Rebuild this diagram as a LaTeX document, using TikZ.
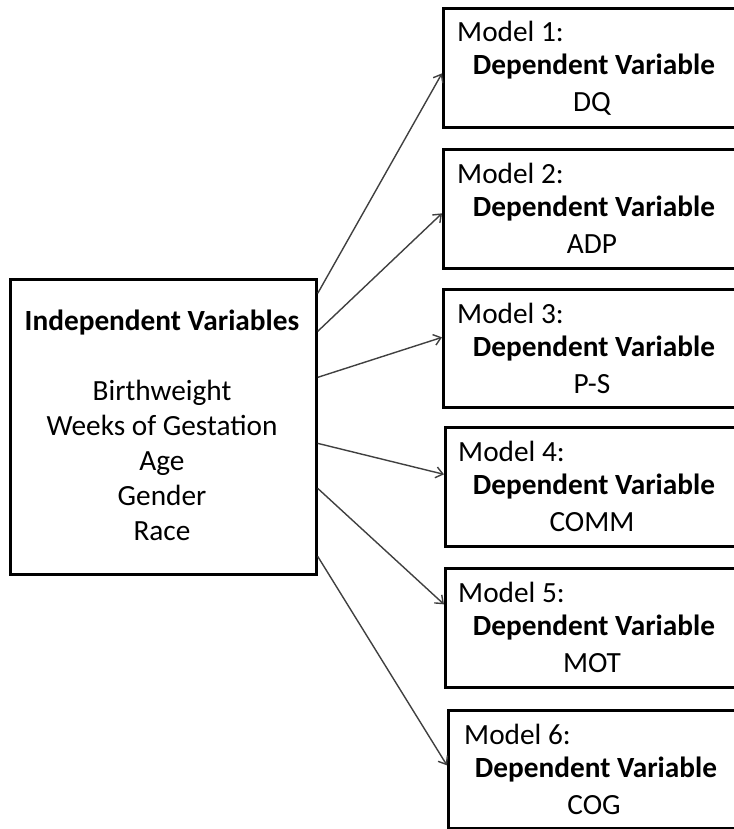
\documentclass[tikz,border=0pt]{standalone}
\usepackage{fontspec}
\setmainfont{Carlito}
\usetikzlibrary{arrows.meta}
\begin{document}
\begin{tikzpicture}[x=1pt,y=-1pt,
  box/.style={draw=black, line width=2.7pt, fill=white, inner sep=0pt, rectangle, anchor=north west},
  mbox/.style={box, minimum width=360pt},
  txt/.style={anchor=base, inner sep=0pt, font=\fontsize{29.3}{35}\selectfont},
  mtxt/.style={txt, anchor=base west},
  btxt/.style={txt, font=\fontsize{29.3}{35}\selectfont\bfseries},
  arr/.style={draw=black!75, line width=1.4pt, -{Straight Barb[length=7pt,width=11pt]}}
]
\useasboundingbox (0,0) rectangle (733,829);

% left box
\node[box, minimum width=306pt, minimum height=295pt] (L) at (9,278) {};
\node[btxt] (lt) at (162,330) {Independent Variables};
\node[txt] (l1) at (162,400) {Birthweight};
\node[txt] (l2) at (162,435) {Weeks of Gestation};
\node[txt] (l3) at (162,470) {Age};
\node[txt] (l4) at (162,505) {Gender};
\node[txt] (l5) at (162,540) {Race};

% right boxes
\node[mbox, minimum height=119pt] (m1) at (442,7) {};
\node[mbox, minimum height=119pt] (m2) at (442,148) {};
\node[mbox, minimum height=118pt] (m3) at (442,288) {};
\node[mbox, minimum height=119pt] (m4) at (444,426) {};
\node[mbox, minimum height=119pt] (m5) at (444,567) {};
\node[mbox, minimum height=118pt] (m6) at (447,709) {};

\foreach \i/\t/\x/\c/\v in {1/7/457/594/DQ, 2/148/457/594/ADP, 3/288/457/594/P-S, 4/426/458/594/COMM, 5/567/458/594/MOT, 6/709/464/596/COG}{
  \node[mtxt] (h\i) at (\x,\t+35) {Model \i:};
  \node[btxt] (d\i) at (\c,\t+68) {Dependent Variable};
  \node[txt] (v\i) at (\c-2,\t+105) {\v};
}

% connectors
\draw[arr] ([yshift=133.5pt]L.east) -- ([yshift=-5.5pt]m1.west);
\draw[arr] ([yshift=95.5pt]L.east) -- ([yshift=-4.5pt]m2.west);
\draw[arr] ([yshift=49.5pt]L.east) -- ([yshift=11pt]m3.west);
\draw[arr] ([yshift=-16.5pt]L.east) -- ([yshift=12.5pt]m4.west);
\draw[arr] ([yshift=-61.5pt]L.east) -- ([yshift=23.5pt]m5.west);
\draw[arr] ([yshift=-129.5pt]L.east) -- ([yshift=4pt]m6.west);
\end{tikzpicture}
\end{document}
